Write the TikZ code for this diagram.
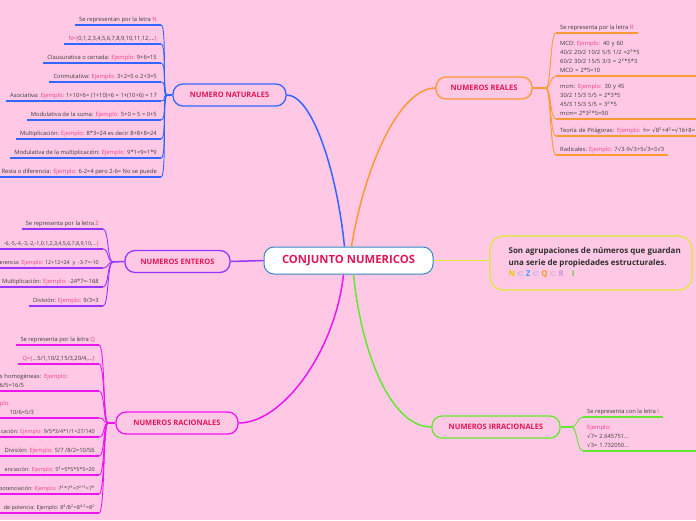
\documentclass[tikz,border=0pt]{standalone}
\usepackage{fontspec}
\setmainfont{Open Sans}
\newfontfamily\raizfont{DejaVu Sans}
\usepackage{xcolor}
\usepackage{tikz}
\usetikzlibrary{positioning}
\definecolor{mapbg}{RGB}{255,201,229}
\definecolor{titlered}{RGB}{226,22,86}
\definecolor{expink}{RGB}{240,64,136}
\definecolor{leaftext}{RGB}{58,58,58}
\definecolor{centerblue}{RGB}{52,136,200}
\newcommand{\ej}[1]{\textcolor{expink}{#1}}
\newcommand{\raiz}{{\raizfont √}}
\newcommand{\elev}[1]{\textsuperscript{#1}}
\newcommand{\subconj}{{\raizfont\mdseries ⊂}}

\begin{document}
\begin{tikzpicture}[
    x=1pt, y=-1pt,
    centro/.style={
        rectangle, draw=centerblue, line width=1pt, fill=white,
        rounded corners=10pt, minimum width=169pt, minimum height=27pt,
        font=\fontsize{11.3}{13}\selectfont\bfseries, text=titlered
    },
    rama/.style={
        rectangle, draw=#1, line width=1.3pt, fill=mapbg,
        rounded corners=10pt, minimum height=22pt,
        font=\fontsize{7.5}{9}\selectfont\bfseries, text=titlered
    },
    hoja/.style={
        inner xsep=4pt, inner ysep=1.8pt, text depth=1.3pt, align=left,
        font=\fontsize{5.8}{9}\selectfont, text=leaftext
    },
    hojachica/.style={hoja, font=\fontsize{5.4}{9}\selectfont},
    hojamulti/.style={hoja, text depth=, inner ysep=2.8pt},
    ramaflow/.style={draw=#1, line width=1.5pt},
    hojaline/.style={draw=#1, line width=1.5pt},
    hojaflow/.style={draw=#1, line width=0.9pt}
]
    \definecolor{natblue}{RGB}{51,102,255}
    \definecolor{realorange}{RGB}{255,153,51}
    \definecolor{entpurple}{RGB}{153,51,255}
    \definecolor{racmagenta}{RGB}{240,20,240}
    \definecolor{irrgreen}{RGB}{102,230,51}
    \definecolor{defyellow}{RGB}{220,235,50}

    \clip (0,0) rectangle (696,520);
    \fill[mapbg] (0,0) rectangle (696,520);

    % temas principales
    \node[centro] (conjunto) at (348.5,260.5) {CONJUNTO NUMERICOS};
    \node[rama=natblue, minimum width=113pt] (naturales) at (229.5,95) {NUMERO NATURALES};
    \node[rama=realorange, minimum width=96pt] (reales) at (484,88) {NUMEROS REALES};
    \node[rama=entpurple, minimum width=105pt] (enteros) at (177.5,261.5) {NUMEROS ENTEROS};
    \node[rama=racmagenta, minimum width=122pt] (racionales) at (177,423) {NUMEROS RACIONALES};
    \node[rama=irrgreen, minimum width=128pt] (irracionales) at (496,427) {NUMEROS IRRACIONALES};
    \node[draw=defyellow, line width=1.2pt, rounded corners=13pt, fill=mapbg,
          minimum width=202pt, minimum height=54pt] (definicion) at (591,263) {};
    \node[inner sep=0pt, right=19pt of definicion.west, align=left, text=leaftext!80!black,
          font=\fontsize{8}{11.5}\selectfont\bfseries] (definicionTexto)
        {Son agrupaciones de números que guardan\\
         una serie de propiedades estructurales.\\
         \textcolor[RGB]{235,205,0}{N} \textcolor[RGB]{150,160,235}{\subconj} \textcolor[RGB]{70,160,255}{Z} \textcolor[RGB]{150,160,235}{\subconj} \textcolor[RGB]{255,150,40}{Q} \textcolor[RGB]{190,150,225}{\subconj} \textcolor[RGB]{200,150,220}{R}\quad\textcolor[RGB]{110,200,60}{I}};

    % numeros naturales
    \coordinate (natHub) at (167,95);
    \node[hoja, anchor=south east] (nat1) at (161,25) {Se representan por la letra \ej{N}};
    \node[hoja, anchor=south east] (nat2) at (161,44) {\ej{N=\{}0,1,2,3,4,5,6,7,8,9,10,11,12,...\ej{\}}};
    \node[hoja, anchor=south east] (nat3) at (161,63) {Clausurativa o cerrada: \ej{Ejemplo:} 9+6=15};
    \node[hoja, anchor=south east] (nat4) at (161,82) {Conmutativa: \ej{Ejemplo:} 3+2=5 o 2+3=5};
    \node[hoja, anchor=south east] (nat5) at (161,101) {Asociativa: \ej{Ejemplo:} 1+10+6= (1+10)+6 = 1+(10+6) = 17};
    \node[hoja, anchor=south east] (nat6) at (161,120) {Modulativa de la suma: \ej{Ejemplo:} 5+0 = 5 = 0+5};
    \node[hoja, anchor=south east] (nat7) at (161,139) {Multiplicación: \ej{Ejemplo:} 8*3=24 es decir 8+8+8=24};
    \node[hoja, anchor=south east] (nat8) at (161,158) {Modulativa de la multiplicación: \ej{Ejemplo:} 9*1=9=1*9};
    \node[hoja, anchor=south east] (nat9) at (161,177) {Resta o diferencia: \ej{Ejemplo:} 6-2=4 pero 2-6= No se puede};

    % numeros enteros
    \coordinate (entHub) at (113,262);
    \node[hoja, anchor=south east] (ent1) at (103,229) {Se representa por la letra \ej{Z}};
    \node[hojachica, anchor=south east] (ent2) at (103,249) {-6,-5,-4,-3,-2,-1,0,1,2,3,4,5,6,7,8,9,10,...\ej{\}}};
    \node[hojachica, anchor=south east] (ent3) at (103,268) {ferencia: \ej{Ejemplo:} 12+12=24 \ y \ -3-7=-10};
    \node[hoja, anchor=south east] (ent4) at (103,287) {Multiplicación: \ej{Ejemplo:} -24*7=-168};
    \node[hoja, anchor=south east] (ent5) at (103,306) {División: \ej{Ejemplo:} 9/3=3};

    % numeros racionales
    \coordinate (racHub) at (108,423);
    \node[hoja, anchor=south east] (rac1) at (99,345) {Se representa por la letra \ej{Q}};
    \node[hoja, anchor=south east] (rac2) at (99,364) {\ej{Q=\{}...5/1,10/2,15/3,20/4,...\ej{\}}};
    \node[hojamulti, anchor=south east, text width=95pt] (rac3) at (99,391) {s homogéneas: \ej{Ejemplo:}\\6/5=16/5};
    \node[hojamulti, anchor=south east, text width=95pt] (rac4) at (99,418) {\ej{plo:}\\\hspace*{10pt}10/6=5/3};
    \node[hojachica, anchor=south east] (rac5) at (99,437) {cación: \ej{Ejemplo:} 9/5*3/4*1/1=27/140};
    \node[hoja, anchor=south east] (rac6) at (99,456) {División: \ej{Ejemplo:} 5/7 /8/2=10/56};
    \node[hojachica, anchor=south east] (rac7) at (99,475) {enciación: \ej{Ejemplo:} 5\elev{4}=5*5*5*5=20};
    \node[hojachica, anchor=south east] (rac8) at (99,494) {potenciación: \ej{Ejemplo:} 7\elev{2}*7\elev{3}=7\elev{2+3}=7\elev{5}};
    \node[hojachica, anchor=south east] (rac9) at (99,513) {de potencia: Ejemplo: 8\elev{4}/8\elev{2}=8\elev{4-2}=8\elev{2}};

    % numeros reales
    \coordinate (reaHub) at (546,88);
    \node[hoja, anchor=south west] (rea1) at (556,33) {Se representa por la letra \ej{R}};
    \node[hojamulti, anchor=south west, text width=160pt] (rea2) at (556,76)
        {MCD: \ej{Ejemplo:} 40 y 60\\40/2 20/2 10/2 5/5 1/2 =2\elev{3}*5\\60/2 30/2 15/5 3/3 = 2\elev{2}*5*3\\MCD = 2*5=10};
    \node[hojamulti, anchor=south west, text width=160pt] (rea3) at (556,119)
        {mcm: \ej{Ejemplo:} 30 y 45\\30/2 15/3 5/5 = 2*3*5\\45/3 15/3 5/5 = 3\elev{2}*5\\mcm= 2*3\elev{2}*5=90};
    \node[hoja, anchor=south west, text width=160pt] (rea4) at (556,136)
        {Teoría de Pitágoras: \ej{Ejemplo:} h= \raiz8\elev{2}+4\elev{2}=\raiz16+8=};
    \node[hoja, anchor=south west] (rea5) at (556,155) {Radicales: \ej{Ejemplo:} 7\raiz3-9\raiz3+5\raiz3=3\raiz3};

    % numeros irracionales
    \coordinate (irrHub) at (572,427);
    \node[hoja, anchor=south west] (irr1) at (583,417) {Se representa con la letra \ej{I}};
    \node[hojamulti, anchor=south west, text width=160pt] (irr2) at (583,451)
        {\ej{Ejemplo:}\\\raiz7= 2.645751...\\\raiz3= 1.732050...};

    % conectores principales
    \draw[ramaflow=natblue] ([xshift=-4pt]conjunto.north) .. controls +(-8,-78) and +(25,0) .. (naturales.east);
    \draw[ramaflow=realorange] ([xshift=3pt]conjunto.north) .. controls +(13,-80) and +(-36,0) .. (reales.west);
    \draw[ramaflow=entpurple] (conjunto.west) -- (enteros.east);
    \draw[ramaflow=racmagenta] ([xshift=-5pt]conjunto.south) .. controls +(-8,75) and +(45,0) .. (racionales.east);
    \draw[ramaflow=irrgreen] ([xshift=5pt]conjunto.south) .. controls +(8,80) and +(-40,0) .. (irracionales.west);
    \draw[ramaflow=defyellow] (conjunto.east) -- (conjunto.east -| definicion.west);

    \draw[ramaflow=natblue] (naturales.west) -- (natHub);
    \draw[ramaflow=entpurple] (enteros.west) -- (entHub);
    \draw[ramaflow=racmagenta] (racionales.west) -- (racHub);
    \draw[ramaflow=realorange] (reales.east) -- (reaHub);
    \draw[ramaflow=irrgreen] (irracionales.east) -- (irrHub);

    % subtemas
    \foreach \i in {1,...,9} {
        \draw[hojaline=natblue] (nat\i.south west) -- (nat\i.south east);
        \draw[hojaflow=natblue] (natHub) .. controls +(-5,0) and +(6,0) .. (nat\i.south east);
    }
    \foreach \i in {1,...,5} {
        \draw[hojaline=entpurple] (ent\i.south west) -- (ent\i.south east);
        \draw[hojaflow=entpurple] (entHub) .. controls +(-6,0) and +(6,0) .. (ent\i.south east);
    }
    \foreach \i in {1,...,9} {
        \draw[hojaline=racmagenta] (rac\i.south west) -- (rac\i.south east);
        \draw[hojaflow=racmagenta] (racHub) .. controls +(-5,0) and +(6,0) .. (rac\i.south east);
    }
    \foreach \i in {1,...,5} {
        \draw[hojaline=realorange] (rea\i.south west) -- (rea\i.south east);
        \draw[hojaflow=realorange] (reaHub) .. controls +(5,0) and +(-6,0) .. (rea\i.south west);
    }
    \foreach \i in {1,2} {
        \draw[hojaline=irrgreen] (irr\i.south west) -- (irr\i.south east);
        \draw[hojaflow=irrgreen] (irrHub) .. controls +(5,0) and +(-6,0) .. (irr\i.south west);
    }
\end{tikzpicture}
\end{document}
